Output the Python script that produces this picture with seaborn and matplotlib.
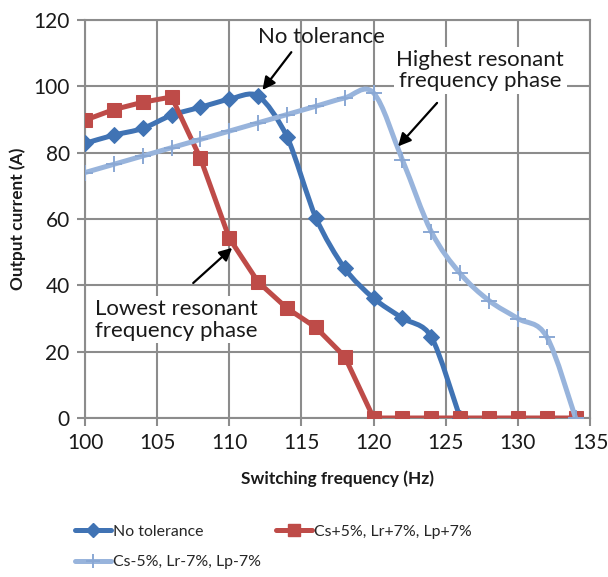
import numpy as np
import pandas as pd
import matplotlib
matplotlib.use("Agg")
import matplotlib.pyplot as plt
from matplotlib.path import Path
from matplotlib.patches import PathPatch
from matplotlib.lines import Line2D
import seaborn as sns

# Switching frequency (Hz) and output current (A) for each tolerance case
freq_nominal = [100, 102, 104, 106, 108, 110, 112, 114, 116, 118, 120, 122, 124, 126]
current_nominal = [82.8, 85.3, 87.3, 91.3, 93.7, 96.1, 97.1, 84.8, 60.4, 45.1, 36.1, 30.1, 24.5, 0]

freq_plus = [100, 102, 104, 106, 108, 110, 112, 114, 116, 118, 120, 122, 124, 126, 128, 130, 132, 134]
current_plus = [89.8, 93.0, 95.2, 96.8, 78.3, 54.2, 41.0, 33.1, 27.3, 18.5, 0, 0, 0, 0, 0, 0, 0, 0]

freq_minus = [100, 102, 104, 106, 108, 110, 112, 114, 116, 118, 120, 122, 124, 126, 128, 130, 132, 134]
current_minus = [74.0, 76.5, 79.0, 81.5, 84.0, 86.5, 89.0, 91.5, 94.0, 96.5, 98.0, 77.8, 56.2, 43.6, 35.4, 30.0, 24.5, 0]

series_names = ["No tolerance", "Cs+5%, Lr+7%, Lp+7%", "Cs-5%, Lr-7%, Lp-7%"]
x_ticks = [100, 105, 110, 115, 120, 125, 130, 135]
y_ticks = [0, 20, 40, 60, 80, 100, 120]

sns.set_style("white")
plt.rcParams["font.family"] = ["Lato", "DejaVu Sans"]

C_BLUE = "#4073B4"
C_RED = "#BE4B48"
C_LIGHT = "#98B4DC"
C_LIGHT_MK = "#8AA8D4"
GRID = "#8C8C8C"
TXT = "#1a1a1a"

fig = plt.figure(figsize=(6.08, 5.77), dpi=100)
ax = fig.add_axes([85 / 608, 1 - 418 / 577, 505 / 608, 398 / 577])


def smooth_path(xs, ys, k=6.0):
    """Bezier path through the points with Catmull-Rom style tangents."""
    pts = np.column_stack([xs, ys]).astype(float)
    n = len(pts)
    verts = [pts[0]]
    codes = [Path.MOVETO]
    for i in range(n - 1):
        p0 = pts[i - 1] if i > 0 else pts[i]
        p1 = pts[i]
        p2 = pts[i + 1]
        p3 = pts[i + 2] if i + 2 < n else pts[i + 1]
        c1 = p1 + (p2 - p0) / k
        c2 = p2 - (p3 - p1) / k
        verts += [c1, c2, p2]
        codes += [Path.CURVE4] * 3
    return Path(verts, codes)


frames = []
for name, fx, cy in zip(series_names,
                        [freq_nominal, freq_plus, freq_minus],
                        [current_nominal, current_plus, current_minus]):
    frames.append(pd.DataFrame({"freq": fx, "current": cy, "series": name}))
df = pd.concat(frames, ignore_index=True)

# No tolerance: smoothed line with diamond markers
d0 = df[df.series == series_names[0]]
ax.add_patch(PathPatch(smooth_path(d0.freq, d0.current, k=7.0), facecolor="none",
                       edgecolor=C_BLUE, lw=3.6, capstyle="round",
                       joinstyle="round", zorder=3))
sns.lineplot(data=d0, x="freq", y="current", ax=ax, linestyle="none",
             marker="D", markersize=8, color=C_BLUE, markeredgecolor=C_BLUE,
             zorder=4, legend=False)

# Upper tolerance: straight segments with square markers
d1 = df[df.series == series_names[1]]
sns.lineplot(data=d1, x="freq", y="current", ax=ax, color=C_RED, lw=3.6,
             marker="s", markersize=10, markeredgecolor=C_RED, zorder=5,
             legend=False)

# Lower tolerance: smoothed line with plus markers
d2 = df[df.series == series_names[2]]
ax.add_patch(PathPatch(smooth_path(d2.freq, d2.current), facecolor="none",
                       edgecolor=C_LIGHT, lw=3.6, capstyle="round",
                       joinstyle="round", zorder=6))
sns.lineplot(data=d2, x="freq", y="current", ax=ax, linestyle="none",
             marker="+", markersize=11, mew=1.4, color=C_LIGHT_MK,
             markeredgecolor=C_LIGHT_MK, zorder=7, legend=False)

ax.set_xlim(100, 135)
ax.set_ylim(0, 120)
ax.set_xticks(x_ticks)
ax.set_yticks(y_ticks)
ax.grid(True, color=GRID, lw=1.5)
ax.set_axisbelow(True)
for s in ax.spines.values():
    s.set_color(GRID)
    s.set_linewidth(1.5)
ax.tick_params(axis="both", which="major", direction="out", length=6,
               width=1.5, color=GRID, labelsize=15, labelcolor=TXT,
               pad=5, bottom=True, left=True)

ax.set_xlabel("Switching frequency (Hz)", fontsize=12.4, fontweight="bold",
              labelpad=12, color=TXT)
ax.set_ylabel("Output current (A)", fontsize=12.4, fontweight="bold",
              labelpad=5, color=TXT)

arrow = dict(arrowstyle="-|>", color="black", lw=1.6, mutation_scale=19,
             shrinkA=0, shrinkB=0)
box = dict(boxstyle="square,pad=0.12", fc="white", ec="none")
txt_kw = dict(fontsize=16, color=TXT, linespacing=1.1, zorder=9)

ax.text(116.4, 114.9, "No tolerance", ha="center", va="center", **txt_kw)
ax.annotate("", xy=(112.3, 98.9), xytext=(114.3, 110.3), zorder=10,
            arrowprops=arrow)

ax.text(127.4, 104.8, "Highest resonant\nfrequency phase", ha="center",
        va="center", bbox=box, **txt_kw)
ax.annotate("", xy=(121.7, 81.9), xytext=(124.4, 95.0), zorder=10,
            arrowprops=arrow)

ax.text(100.7, 29.6, "Lowest resonant\nfrequency phase", ha="left",
        va="center", bbox=box, **txt_kw)
ax.annotate("", xy=(110.2, 51.3), xytext=(107.5, 40.7), zorder=10,
            arrowprops=arrow)

handles = [
    Line2D([], [], color=C_BLUE, lw=3.6, marker="D", markersize=7),
    Line2D([], [], color=C_LIGHT, lw=3.6, marker="+", markersize=10, mew=1.4,
           markeredgecolor=C_LIGHT_MK),
    Line2D([], [], color=C_RED, lw=3.6, marker="s", markersize=9),
]
labels = [series_names[0], series_names[2], series_names[1]]
fig.legend(handles, labels, loc="upper left", bbox_to_anchor=(0.113, 0.102),
           ncol=2, frameon=False, fontsize=11.4, handlelength=2.3,
           handletextpad=0.1, columnspacing=0.95, labelspacing=1.05,
           borderaxespad=0)

fig.savefig("out.png", dpi=100)
